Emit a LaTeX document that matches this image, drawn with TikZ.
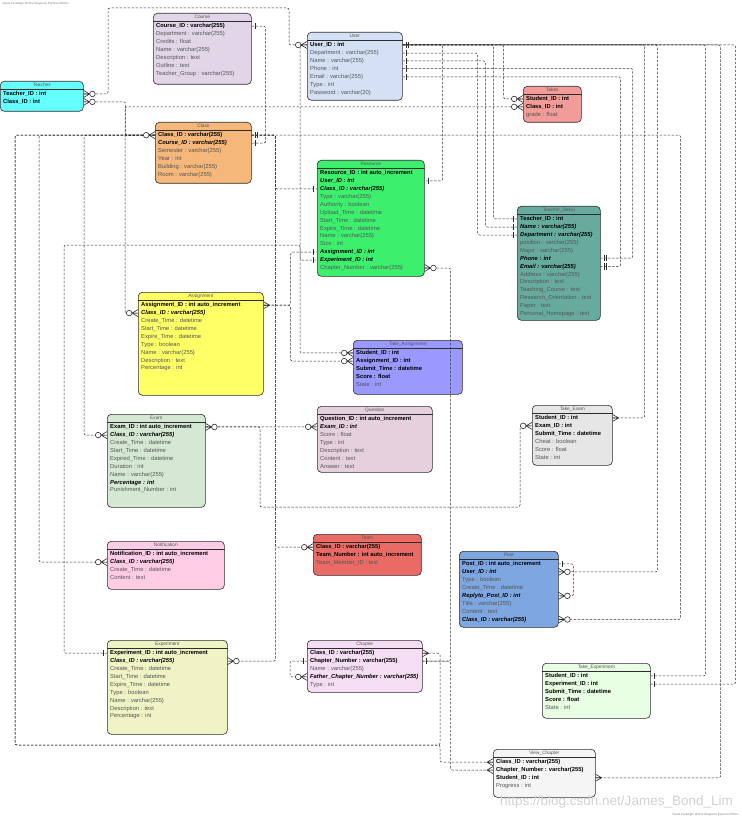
\documentclass[tikz,border=0pt]{standalone}
\usepackage{fontspec}
\setmainfont{Liberation Sans}
\usetikzlibrary{positioning,calc}
\definecolor{erline}{RGB}{45,45,45}
\definecolor{ertext}{RGB}{85,85,85}
\definecolor{cCourse}{RGB}{225,213,231}
\definecolor{cUser}{RGB}{212,225,245}
\definecolor{cTeacher}{RGB}{102,255,255}
\definecolor{cTakes}{RGB}{241,156,153}
\definecolor{cClass}{RGB}{245,183,122}
\definecolor{cResource}{RGB}{60,240,110}
\definecolor{cTeacherD}{RGB}{103,171,159}
\definecolor{cAssign}{RGB}{255,255,102}
\definecolor{cTakeAssign}{RGB}{153,153,255}
\definecolor{cExam}{RGB}{213,232,212}
\definecolor{cQuestion}{RGB}{230,208,222}
\definecolor{cTakeExam}{RGB}{230,230,230}
\definecolor{cNotif}{RGB}{255,204,230}
\definecolor{cTeam}{RGB}{234,107,102}
\definecolor{cPost}{RGB}{126,166,224}
\definecolor{cExper}{RGB}{240,243,195}
\definecolor{cChapter}{RGB}{245,222,243}
\definecolor{cTakeExp}{RGB}{232,255,228}
\definecolor{cView}{RGB}{245,245,245}

% one table: name, x, y, width, height, fill, title
\newcommand{\ertable}[7]{%
  \node[tbl,fill=#6,minimum width=#4pt,minimum height=#5pt] (#1) at (#2,#3) {};
  \node[ttl] (#1-t) at ($(#1.north)+(0,4.2)$) {#7};
  \draw[erline,line width=0.4pt] ($(#1.north west)+(0,8)$) -- ($(#1.north east)+(0,8)$);
}
% rows of a table: k key, f foreign key, n plain
\newcommand{\errows}[2]{%
  \foreach \kind/\txt [count=\i] in {#2}
    \node[row\kind] (#1-\i) at ($(#1.north west)+(3,6.8+7.9*\i)$) {\txt};
}

\tikzset{
  pics/one/.style={code={\draw[erline,solid,line width=0.6pt] (4,-3.2) -- (4,3.2);}},
  pics/oneone/.style={code={\draw[erline,solid,line width=0.6pt] (3.5,-3.2) -- (3.5,3.2) (6,-3.2) -- (6,3.2);}},
  pics/many/.style={code={\draw[erline,solid,line width=0.6pt] (0,-3.5) -- (6,0) -- (0,3.5) (0,0) -- (6,0);}},
  pics/zmany/.style={code={\draw[erline,solid,line width=0.6pt] (0,-3.5) -- (6,0) -- (0,3.5) (0,0) -- (6,0);
    \draw[erline,solid,fill=white,line width=0.6pt] (8.8,0) circle[radius=2.8pt];}},
}

\begin{document}
\begin{tikzpicture}[
  x=1pt,y=-1pt,
  tbl/.style={draw=erline,line width=0.6pt,rounded corners=4pt,anchor=north west,inner sep=0pt},
  ttl/.style={font=\fontsize{4.8}{5}\selectfont,text=ertext,inner sep=0pt},
  rowk/.style={anchor=base west,inner sep=0pt,font=\fontsize{5.8}{6}\selectfont\bfseries},
  rowf/.style={anchor=base west,inner sep=0pt,font=\fontsize{5.8}{6}\selectfont\bfseries\itshape},
  rown/.style={anchor=base west,inner sep=0pt,text=ertext,font=\fontsize{5.8}{6}\selectfont},
  rel/.style={draw=erline,line width=0.5pt,dash pattern=on 2.4pt off 1.6pt,rounded corners=2pt},
]
  \fill[white] (0,0) rectangle (741,818);
  \useasboundingbox (0,0) rectangle (741,818);

  % tables
  \ertable{course}{153}{13}{98}{71}{cCourse}{Course}
  \errows{course}{k/Course\_ID : varchar(255), n/Department : varchar(255), n/Credits : float,
    n/Name : varchar(255), n/Description : text, n/Outline : text, n/Teacher\_Group : varchar(255)}
  \ertable{user}{307}{32}{95}{68}{cUser}{User}
  \errows{user}{k/User\_ID : int, n/Department : varchar(255), n/Name : varchar(255), n/Phone : int,
    n/Email : varchar(255), n/Type : int, n/Password : varchar(20)}
  \ertable{teacher}{0}{81}{83}{30}{cTeacher}{Teaches}
  \errows{teacher}{k/Teacher\_ID : int, k/Class\_ID : int}
  \ertable{takes}{523}{86}{58}{36}{cTakes}{Takes}
  \errows{takes}{k/Student\_ID : int, k/Class\_ID : int, n/grade : float}
  \ertable{class}{155}{122}{96}{61}{cClass}{Class}
  \errows{class}{k/Class\_ID : varchar(255), f/Course\_ID : varchar(255), n/Semester : varchar(255),
    n/Year : int, n/Building : varchar(255), n/Room : varchar(255)}
  \ertable{resource}{317}{160}{107}{116}{cResource}{Resource}
  \errows{resource}{k/Resource\_ID : int auto\_increment, f/User\_ID : int, f/Class\_ID : varchar(255),
    n/Type : varchar(255), n/Authority : boolean, n/Upload\_Time : datetime, n/Start\_Time : datetime,
    n/Expire\_Time : datetime, n/Name : varchar(255), n/Size : int, f/Assignment\_ID : int,
    f/Experiment\_ID : int, n/Chapter\_Number : varchar(255)}
  \ertable{teacherd}{517}{206}{83}{114}{cTeacherD}{Teacher\_Detail}
  \errows{teacherd}{k/Teacher\_ID : int, f/Name : varchar(255), f/Department : varchar(255),
    n/position : varchar(255), n/Major : varchar(255), f/Phone : int, f/Email : varchar(255),
    n/Address : varchar(255), n/Description : text, n/Teaching\_Course : text,
    n/Research\_Orientation : text, n/Paper : text, n/Personal\_Homepage : text}
  \ertable{assignment}{138}{292}{125}{103}{cAssign}{Assignment}
  \errows{assignment}{k/Assignment\_ID : int auto\_increment, f/Class\_ID : varchar(255),
    n/Create\_Time : datetime, n/Start\_Time : datetime, n/Expire\_Time : datetime, n/Type : boolean,
    n/Name : varchar(255), n/Description : text, n/Percentage : int}
  \ertable{takeassign}{353}{340}{109}{54}{cTakeAssign}{Take\_Assignment}
  \errows{takeassign}{k/Student\_ID : int, k/Assignment\_ID : int, k/Submit\_Time : datetime,
    k/Score : float, n/State : int}
  \ertable{exam}{107}{414}{98}{93}{cExam}{Exam}
  \errows{exam}{k/Exam\_ID : int auto\_increment, f/Class\_ID : varchar(255), n/Create\_Time : datetime,
    n/Start\_Time : datetime, n/Expired\_Time : datetime, n/Duration : int, n/Name : varchar(255),
    f/Percentage : int, n/Punishment\_Number : int}
  \ertable{question}{317}{406}{115}{66}{cQuestion}{Question}
  \errows{question}{k/Question\_ID : int auto\_increment, f/Exam\_ID : int, n/Score : float, n/Type : int,
    n/Description : text, n/Content : text, n/Answer : text}
  \ertable{takeexam}{532}{405}{80}{60}{cTakeExam}{Take\_Exam}
  \errows{takeexam}{k/Student\_ID : int, k/Exam\_ID : int, k/Submit\_Time : datetime, n/Cheat : boolean,
    n/Score : float, n/State : int}
  \ertable{notification}{107}{541}{117}{48}{cNotif}{Notification}
  \errows{notification}{k/Notification\_ID : int auto\_increment, f/Class\_ID : varchar(255),
    n/Create\_Time : datetime, n/Content : text}
  \ertable{team}{313}{534}{108}{41}{cTeam}{Team}
  \errows{team}{k/Class\_ID : varchar(255), k/Team\_Number : int auto\_increment, n/Team\_Member\_ID : text}
  \ertable{post}{459}{551}{99}{76}{cPost}{Post}
  \errows{post}{k/Post\_ID : int auto\_increment, f/User\_ID : int, n/Type : boolean,
    n/Create\_Time : datetime, f/Replyto\_Post\_ID : int, n/Title : varchar(255), n/Content : text,
    f/Class\_ID : varchar(255)}
  \ertable{experiment}{107}{640}{120}{94}{cExper}{Experiment}
  \errows{experiment}{k/Experiment\_ID : int auto\_increment, f/Class\_ID : varchar(255),
    n/Create\_Time : datetime, n/Start\_Time : datetime, n/Expire\_Time : datetime, n/Type : boolean,
    n/Name : varchar(255), n/Description : text, n/Percentage : int}
  \ertable{chapter}{307}{640}{115}{52}{cChapter}{Chapter}
  \errows{chapter}{k/Class\_ID : varchar(255), k/Chapter\_Number : varchar(255), n/Name : varchar(255),
    f/Father\_Chapter\_Number : varchar(255), n/Type : int}
  \ertable{takeexp}{542}{663}{108}{55}{cTakeExp}{Take\_Experiment}
  \errows{takeexp}{k/Student\_ID : int, k/Experiment\_ID : int, k/Submit\_Time : datetime,
    k/Score : float, n/State : int}
  \ertable{viewchap}{493}{749}{102}{48}{cView}{View\_Chapter}
  \errows{viewchap}{k/Class\_ID : varchar(255), k/Chapter\_Number : varchar(255), k/Student\_ID : int,
    n/Progress : int}

  % relations
  \draw[rel] (teacher.east|-teacher-1) -| (108,8) -- (289,8) |- (user.west|-user-1);
  \draw[rel] (teacher.east|-teacher-2) -- ++(42,0) |- (class.west|-class-1);
  \draw[rel] (course.east|-course-1) -- ++(14,0) |- (class.east|-class-2);
  \draw[rel] (class.west|-class-1) -- ++(-30,0) |- (takes.west|-takes-2);
  \draw[rel] (class.west|-class-1) -- ++(-30,0) |- (assignment.west|-assignment-2);
  \draw[rel] (class.west|-class-1) -- ++(-71,0) |- (exam.west|-exam-2);
  \draw[rel] (class.west|-class-1) -- ++(-116,0) |- (notification.west|-notification-2);
  \draw[rel] (class.west|-class-1) -| (15,745) -| (440,700) |- (chapter.east|-chapter-1);
  \draw[rel] (class.west|-class-1) -| (15,745) -| (440,755) |- (viewchap.west|-viewchap-1);
  \draw[rel] (class.east|-class-1) -- ++(24,0) |- (resource.west|-resource-3);
  \draw[rel] (class.east|-class-1) -- ++(24,0) |- (team.west|-team-1);
  \draw[rel] (class.east|-class-1) -- ++(24,0) |- (experiment.east|-experiment-2);
  \draw[rel] (class.east|-class-1) -- ++(429,0) |- (post.east|-post-8);
  \draw[rel] (user.east|-user-1) -- ++(101,0) |- (takes.west|-takes-1);
  \draw[rel] (user.east|-user-1) -- ++(91,0) |- (teacherd.west|-teacherd-1);
  \draw[rel] (user.east|-user-3) -- ++(83,0) |- (teacherd.west|-teacherd-2);
  \draw[rel] (user.east|-user-2) -- ++(75,0) |- (teacherd.west|-teacherd-3);
  \draw[rel] (user.east|-user-4) -- ++(230,0) |- (teacherd.east|-teacherd-6);
  \draw[rel] (user.east|-user-5) -- ++(218,0) |- (teacherd.east|-teacherd-7);
  \draw[rel] (user.east|-user-1) -- ++(40,0) |- (resource.east|-resource-2);
  \draw[rel] (takeexam.east|-takeexam-1) -- ++(32,0) |- (user.east|-user-1);
  \draw[rel] (post.east|-post-2) -- ++(99,0) |- (user.east|-user-1);
  \draw[rel] (takeexp.east|-takeexp-1) -- ++(55,0) |- (user.east|-user-1);
  \draw[rel] (takeexp.east|-takeexp-2) -- ++(85,0) |- (user.east|-user-1);
  \draw[rel] (viewchap.east|-viewchap-3) -- ++(125,0) |- (user.east|-user-1);
  \draw[rel] (takeassign.west|-takeassign-1) -- ++(-53,0) |- (user.west|-user-1);
  \draw[rel] (assignment.east|-assignment-1) -- ++(27,0) |- (resource.west|-resource-11);
  \draw[rel] (assignment.east|-assignment-1) -- ++(27,0) |- (takeassign.west|-takeassign-2);
  \draw[rel] (exam.east|-exam-1) -- (question.west|-question-2);
  \draw[rel] (exam.east|-exam-1) -| (260,507) -| (520,440) |- (takeexam.west|-takeexam-2);
  \draw[rel] (post.east|-post-1) -- ++(15,0) |- (post.east|-post-5);
  \draw[rel] (resource.east|-resource-13) -- ++(26,0) |- (chapter.east|-chapter-2);
  \draw[rel] (chapter.east|-chapter-2) -- ++(28,0) |- (viewchap.west|-viewchap-2);
  \draw[rel] (chapter.west|-chapter-2) -- ++(-17,0) |- (chapter.west|-chapter-4);
  \draw[rel] (experiment.west|-experiment-1) -| (64,245) -| (300,252) |- (resource.west|-resource-12);

  % ends
  \pic at (teacher.east|-teacher-1) {zmany};
  \pic at (teacher.east|-teacher-2) {zmany};
  \pic[rotate=180] at (user.west|-user-1) {zmany};
  \pic[rotate=180] at (class.west|-class-1) {zmany};
  \pic at (course.east|-course-1) {one};
  \pic at (class.east|-class-1) {oneone};
  \pic at (class.east|-class-2) {one};
  \pic[rotate=180] at (takes.west|-takes-1) {zmany};
  \pic[rotate=180] at (takes.west|-takes-2) {zmany};
  \pic[rotate=180] at (assignment.west|-assignment-2) {zmany};
  \pic[rotate=180] at (exam.west|-exam-2) {zmany};
  \pic[rotate=180] at (notification.west|-notification-2) {zmany};
  \pic at (chapter.east|-chapter-1) {many};
  \pic[rotate=180] at (viewchap.west|-viewchap-1) {many};
  \pic[rotate=180] at (resource.west|-resource-3) {one};
  \pic[rotate=180] at (team.west|-team-1) {zmany};
  \pic at (experiment.east|-experiment-2) {zmany};
  \pic at (post.east|-post-8) {zmany};
  \pic at (user.east|-user-1) {oneone};
  \foreach \n in {2,...,5} \pic at (user.east|-user-\n) {one};
  \foreach \n in {1,2,3} \pic[rotate=180] at (teacherd.west|-teacherd-\n) {one};
  \pic at (teacherd.east|-teacherd-6) {oneone};
  \pic at (teacherd.east|-teacherd-7) {oneone};
  \pic at (resource.east|-resource-2) {one};
  \pic at (takeexam.east|-takeexam-1) {many};
  \pic at (post.east|-post-2) {zmany};
  \pic at (takeexp.east|-takeexp-1) {one};
  \pic at (takeexp.east|-takeexp-2) {one};
  \pic at (viewchap.east|-viewchap-3) {many};
  \pic[rotate=180] at (takeassign.west|-takeassign-1) {zmany};
  \pic[rotate=180] at (takeassign.west|-takeassign-2) {zmany};
  \pic at (assignment.east|-assignment-1) {many};
  \pic[rotate=180] at (resource.west|-resource-11) {one};
  \pic at (exam.east|-exam-1) {zmany};
  \pic[rotate=180] at (question.west|-question-2) {zmany};
  \pic[rotate=180] at (takeexam.west|-takeexam-2) {zmany};
  \pic at (post.east|-post-1) {one};
  \pic at (post.east|-post-5) {zmany};
  \pic at (resource.east|-resource-13) {zmany};
  \pic at (chapter.east|-chapter-2) {one};
  \pic[rotate=180] at (viewchap.west|-viewchap-2) {many};
  \pic[rotate=180] at (chapter.west|-chapter-2) {one};
  \pic[rotate=180] at (chapter.west|-chapter-4) {zmany};
  \pic[rotate=180] at (experiment.west|-experiment-1) {one};
  \pic[rotate=180] at (resource.west|-resource-12) {one};

  % marks
  \node[font=\fontsize{3}{3}\selectfont,text=gray,anchor=north west,inner sep=0pt] (vpa) at (2,2)
    {Visual Paradigm Online Diagrams Express Edition};
  \node[font=\fontsize{3}{3}\selectfont,text=gray,anchor=south east,inner sep=0pt] (vpb) at (739,816)
    {Visual Paradigm Online Diagrams Express Edition};
  \node[font=\fontsize{13.5}{14}\selectfont,text=gray!35,anchor=south east,inner sep=0pt] (wm) at (733,808)
    {https://blog.csdn.net/James\_Bond\_Lim};
\end{tikzpicture}
\end{document}
